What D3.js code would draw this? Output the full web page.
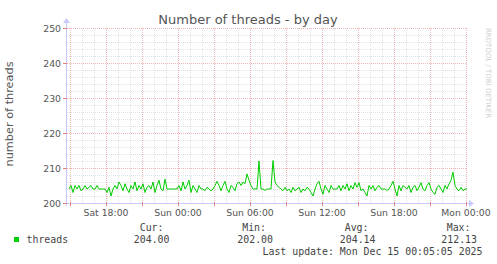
<!DOCTYPE html>
<html>
<head>
<meta charset="utf-8">
<script src="https://cdn.jsdelivr.net/npm/d3@7"></script>
<style>
  body { margin: 0; background: #fff; }
  svg { display: block; }
</style>
</head>
<body>
<div class="chart"></div>
<script>
// threads sampled every 10 minutes, Sat 14:55 -> Mon 00:05
const START = new Date(2025, 11, 13, 14, 55);
const STEP_MIN = 10;
const threads = [
  204, 205, 203, 205, 204, 205, 203.5, 204, 205, 204, 204.5,
  205, 204, 204, 205, 204, 204, 204, 204,
  203, 204.5, 202, 204, 205, 204, 206,
  205, 203.5, 205.5, 204, 203, 205, 204, 206, 203.5, 205, 204, 205.5, 203, 204.5, 205,
  204, 206, 203, 205, 206.5, 204, 203.5, 206.8, 204,
  204, 204, 204, 204, 204,
  205, 203.5, 206, 204, 205, 206.5, 203, 205, 204, 203, 205, 204,
  204, 203.5, 204.5, 204, 203.5, 204, 205,
  206.2, 205, 203.5,
  205, 206.2, 204, 203, 205, 204.5, 203.5, 205.5, 206, 205,
  206, 205.5, 208.3, 206.5, 205, 204, 204,
  204, 212, 204, 204, 203.6, 204, 204, 204,
  212.13, 206, 205, 204.5, 204,
  203.5, 204.5, 203.5, 204, 203, 204.5, 203.5, 204, 204.5, 203, 204, 203.5, 204.5, 204, 203,
  202, 204, 205.5, 206.2, 204, 202.5, 205, 204, 203, 205, 204, 204,
  204, 205, 203.5, 205, 204, 205.5, 203.5, 205, 204, 205.8, 204.5, 205.8, 203.5, 204,
  203, 202, 205, 204, 205, 203.5, 204.5, 205, 204,
  204, 204, 203.6, 204,
  205, 206.2, 204, 202, 205, 203.5, 205, 204.5, 204, 205,
  203, 204.5, 205, 203.5, 204.5, 205.8, 204, 203.5, 205, 205.8, 204, 203, 202.5,
  204.5, 205, 204, 203, 205, 204, 205.5, 206.5,
  208.8, 205, 204, 203.5, 204.5, 203.5, 204, 204
];
const yTicks = [200, 210, 220, 230, 240, 250];
const legendHeads = ["Cur:", "Min:", "Avg:", "Max:"];
const legendVals = ["204.00", "202.00", "204.14", "212.13"];
const lastUpdate = "Last update: Mon Dec 15 00:05:05 2025";

const W = 497, H = 264;
const L = 67, R = 467, T = 28, B = 203;

const svg = d3.select(".chart").append("svg").attr("width", W).attr("height", H);

const x = d3.scaleTime()
  .domain([new Date(2025, 11, 13, 14, 45), new Date(2025, 11, 15, 0, 5)])
  .range([L, R]);
const y = d3.scaleLinear().domain([200, 250]).range([B, T]);

const data = threads.map((v, i) => ({ t: d3.timeMinute.offset(START, i * STEP_MIN), v }));

// minor grid
const minorX = x.ticks(d3.timeHour.every(1));
const minorY = d3.range(200, 251, 2);
const grid = svg.append("g").attr("shape-rendering", "crispEdges");
grid.selectAll(".mx").data(minorX).join("line")
  .attr("x1", d => Math.round(x(d)) + 0.5).attr("x2", d => Math.round(x(d)) + 0.5)
  .attr("y1", T).attr("y2", B)
  .attr("stroke", "#e2e2e2").attr("stroke-dasharray", "1,1");
grid.selectAll(".my").data(minorY).join("line")
  .attr("x1", L).attr("x2", R)
  .attr("y1", d => Math.round(y(d)) + 0.5).attr("y2", d => Math.round(y(d)) + 0.5)
  .attr("stroke", "#e2e2e2").attr("stroke-dasharray", "1,1");

// major grid
const majorX = x.ticks(d3.timeHour.every(3));
grid.selectAll(".Mx").data(majorX).join("line")
  .attr("x1", d => Math.round(x(d)) + 0.5).attr("x2", d => Math.round(x(d)) + 0.5)
  .attr("y1", T).attr("y2", B)
  .attr("stroke", "#f0b4b4").attr("stroke-dasharray", "1,1");
grid.selectAll(".My").data(yTicks).join("line")
  .attr("x1", L).attr("x2", R)
  .attr("y1", d => Math.round(y(d)) + 0.5).attr("y2", d => Math.round(y(d)) + 0.5)
  .attr("stroke", "#f0b4b4").attr("stroke-dasharray", "1,1");

// axes lines with arrows
const axisCol = "#c8c8ff";
grid.append("line").attr("x1", L - 1).attr("x2", R + 2)
  .attr("y1", B + 0.5).attr("y2", B + 0.5).attr("stroke", axisCol);
grid.append("line").attr("x1", L - 0.5).attr("x2", L - 0.5)
  .attr("y1", B + 3).attr("y2", T - 5).attr("stroke", axisCol);
svg.append("path").attr("d", `M${R + 2},${B - 3} L${R + 7},${B + 0.5} L${R + 2},${B + 4} Z`).attr("fill", axisCol);
svg.append("path").attr("d", `M${L - 4},${T - 5} L${L - 0.5},${T - 10} L${L + 3},${T - 5} Z`).attr("fill", axisCol);

// tick marks
grid.selectAll(".tx").data(majorX).join("line")
  .attr("x1", d => Math.round(x(d)) + 0.5).attr("x2", d => Math.round(x(d)) + 0.5)
  .attr("y1", B - 1).attr("y2", B + 3).attr("stroke", "#e88080");
grid.selectAll(".ty").data(yTicks).join("line")
  .attr("x1", L - 4).attr("x2", L)
  .attr("y1", d => Math.round(y(d)) + 0.5).attr("y2", d => Math.round(y(d)) + 0.5)
  .attr("stroke", "#e88080");

// tick labels
const labelX = x.ticks(d3.timeHour.every(6));
const fmt = d3.timeFormat("%a %H:%M");
svg.append("g").selectAll("text").data(labelX).join("text")
  .attr("x", d => x(d)).attr("y", 216)
  .attr("text-anchor", "middle")
  .attr("font-family", "DejaVu Sans").attr("font-size", 9.3).attr("fill", "#555")
  .text(d => fmt(d));
svg.append("g").selectAll("text").data(yTicks).join("text")
  .attr("x", 61).attr("y", d => y(d) + 3.5)
  .attr("text-anchor", "end")
  .attr("font-family", "DejaVu Sans").attr("font-size", 9.3).attr("fill", "#555")
  .text(d => d);

// series
const line = d3.line().x(d => x(d.t)).y(d => y(d.v));
svg.append("path").datum(data)
  .attr("d", line).attr("fill", "none")
  .attr("stroke", "#00cc00").attr("stroke-width", 1);

// title and labels
svg.append("text").attr("x", 248).attr("y", 24).attr("text-anchor", "middle")
  .attr("font-family", "DejaVu Sans").attr("font-size", 13).attr("fill", "#555")
  .text("Number of threads - by day");
svg.append("text").attr("transform", "translate(13,114) rotate(-90)").attr("text-anchor", "middle")
  .attr("font-family", "DejaVu Sans").attr("font-size", 11.3).attr("fill", "#555")
  .text("number of threads");
svg.append("text").attr("transform", "translate(486,73) rotate(90)").attr("text-anchor", "middle")
  .attr("font-family", "DejaVu Sans").attr("font-size", 7).attr("fill", "#d0d0d0")
  .text("RRDTOOL / TOBI OETIKER");

// legend
const mono = "DejaVu Sans Mono";
svg.append("rect").attr("x", 14).attr("y", 237).attr("width", 5).attr("height", 5).attr("fill", "#00cc00");
svg.append("text").attr("x", 26.5).attr("y", 242.5)
  .attr("font-family", mono).attr("font-size", 9.9).attr("fill", "#444").text("threads");
const headEnds = [163.5, 266, 368.5, 470.5];
const valEnds = [169.5, 273, 375.5, 477];
svg.append("g").selectAll("text").data(legendHeads).join("text")
  .attr("x", (d, i) => headEnds[i]).attr("y", 230.5).attr("text-anchor", "end")
  .attr("font-family", mono).attr("font-size", 9.9).attr("fill", "#444").text(d => d);
svg.append("g").selectAll("text").data(legendVals).join("text")
  .attr("x", (d, i) => valEnds[i]).attr("y", 242.5).attr("text-anchor", "end")
  .attr("font-family", mono).attr("font-size", 9.9).attr("fill", "#444").text(d => d);
svg.append("text").attr("x", 482.5).attr("y", 254.5).attr("text-anchor", "end")
  .attr("font-family", mono).attr("font-size", 9.9).attr("fill", "#444").text(lastUpdate);
</script>
</body>
</html>
